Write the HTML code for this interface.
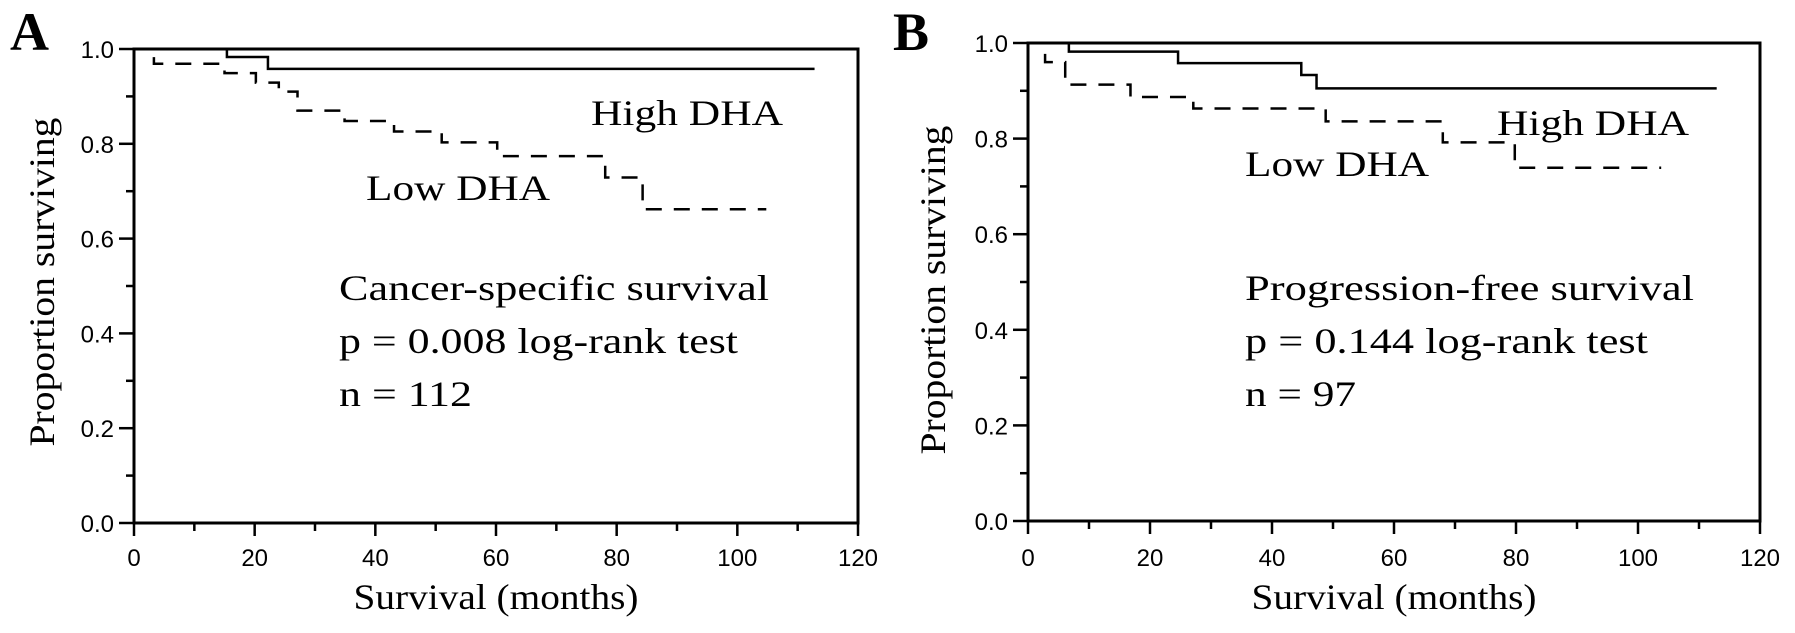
<!DOCTYPE html>
<html><head><meta charset="utf-8"><style>
html,body{margin:0;padding:0;background:#fff;}
svg{display:block;}
.tick{font-family:"Liberation Sans",sans-serif;font-size:24px;fill:#000;}
.ser{font-family:"Liberation Serif",serif;fill:#000;}
</style></head><body>
<svg id="fig" width="1795" height="633" viewBox="0 0 1795 633" xmlns="http://www.w3.org/2000/svg"></svg>
<script>
// Panel A data (months, proportion)
const aHighTimes = [0, 15.4, 22.2, 112.8];
const aHighVals  = [1.0, 0.983, 0.958, 0.958];
const aLowTimes  = [0, 3.3, 15.0, 20.2, 24.0, 27.1, 34.9, 43.1, 51.0, 60.2, 78.1, 84.3, 104.8];
const aLowVals   = [1.0, 0.969, 0.949, 0.929, 0.910, 0.870, 0.848, 0.826, 0.803, 0.774, 0.729, 0.662, 0.662];
// Panel B data
const bHighTimes = [0, 6.7, 24.6, 44.8, 47.3, 112.9];
const bHighVals  = [1.0, 0.982, 0.958, 0.933, 0.905, 0.905];
const bLowTimes  = [0, 2.8, 6.1, 16.8, 27.1, 48.8, 68.0, 79.8, 103.8];
const bLowVals   = [1.0, 0.96, 0.913, 0.887, 0.863, 0.836, 0.792, 0.739, 0.739];
const xTickLabels = ["0","20","40","60","80","100","120"];
const yTickLabels = ["0.0","0.2","0.4","0.6","0.8","1.0"];

const NS = "http://www.w3.org/2000/svg";
const svg = document.getElementById('fig');
function mk(tag, attrs, parent){
  const e = document.createElementNS(NS, tag);
  for (const k in attrs) e.setAttribute(k, attrs[k]);
  (parent||svg).appendChild(e);
  return e;
}
function txt(parent, x, y, s, cls, size, len, anchor){
  const t = mk('text', {x:x, y:y, class:cls}, parent);
  if (size) t.setAttribute('font-size', size);
  if (len){ t.setAttribute('textLength', len); t.setAttribute('lengthAdjust','spacingAndGlyphs'); }
  if (anchor) t.setAttribute('text-anchor', anchor);
  t.textContent = s;
  return t;
}
function stepPath(times, vals, sx, sy){
  let d = 'M' + sx(times[0]) + ' ' + sy(vals[0]);
  for (let i = 1; i < times.length; i++){
    d += ' H' + sx(times[i]) + ' V' + sy(vals[i]);
  }
  return d;
}
function panel(p){
  const g = mk('g', {});
  
  
  const sx = m => p.x0 + (p.x1 - p.x0) * m / 120;
  const sy = v => p.y0 + (p.y1 - p.y0) * v;
  // frame
  const fr = mk('rect', {x:sx(0), y:sy(1), width:sx(120)-sx(0), height:sy(0)-sy(1), fill:'none', stroke:'#000', 'stroke-width':3}, g);
  
  
  // x ticks
  for (let m = 0; m <= 120; m += 10){
    const major = m % 20 === 0;
    const l = mk('line', {x1:sx(m), x2:sx(m), y1:sy(0), y2:sy(0) + (major?13:8), stroke:'#000', 'stroke-width':2.5}, g);
    
    
  }
  xTickLabels.forEach((s, i) => {
    const t = txt(g, sx(i*20), 566, s, 'tick', null, null, 'middle');
    
    
  });
  for (let k = 0; k <= 10; k++){
    const major = k % 2 === 0;
    const l = mk('line', {x1:sx(0) - (major?15:8), x2:sx(0), y1:sy(k/10), y2:sy(k/10), stroke:'#000', 'stroke-width':2.5}, g);
    
    
  }
  yTickLabels.forEach((s, i) => {
    const t = txt(g, sx(0) - 20, sy(i*0.2) + 9, s, 'tick', null, null, 'end');
    
    
  });
  // curves
  const hi = mk('path', {d:stepPath(p.hiT, p.hiV, sx, sy), fill:'none', stroke:'#000', 'stroke-width':2.5}, g);
  
  
  const lo = mk('path', {d:stepPath(p.loT, p.loV, sx, sy), fill:'none', stroke:'#000', 'stroke-width':2.5, 'stroke-dasharray':'16 12'}, g);
  
  
  // labels
  let t;
  t = txt(g, p.letterX, 50, p.letter, 'ser', 54); t.setAttribute('font-weight','bold');
  
  
  t = txt(g, p.hiLab[0], p.hiLab[1], 'High DHA', 'ser', 36, 192);
  
  
  t = txt(g, p.loLab[0], p.loLab[1], 'Low DHA', 'ser', 36, 184);
  
  
  t = txt(g, p.ann[0], 300, p.title, 'ser', 36, p.titleLen);
  
  
  t = txt(g, p.ann[0], 353, p.pline, 'ser', 36, p.pLen);
  
  
  t = txt(g, p.ann[0], 406, p.nline, 'ser', 36, p.nLen);
  
  
  t = txt(g, (sx(0)+sx(120))/2, 609, 'Survival (months)', 'ser', 36, 285, 'middle');
  
  
  const yc = p.yTitleY;
  t = txt(g, p.yTitleX, yc, 'Proportion surviving', 'ser', 36, 329, 'middle');
  t.setAttribute('transform', 'rotate(-90 ' + p.yTitleX + ' ' + yc + ')');
  
  
}
panel({name:'panel-a-cancer-specific', x0:134, x1:858, y0:523, y1:49,
  hiT:aHighTimes, hiV:aHighVals, loT:aLowTimes, loV:aLowVals,
  letter:'A', letterX:10, hiLab:[591,125], loLab:[366,200], ann:[339],
  title:'Cancer-specific survival', titleLen:430, pline:'p = 0.008 log-rank test', pLen:399, nline:'n = 112', nLen:133,
  yTitleX:54, yTitleY:282});
panel({name:'panel-b-progression-free', x0:1028, x1:1760, y0:521, y1:43,
  hiT:bHighTimes, hiV:bHighVals, loT:bLowTimes, loV:bLowVals,
  letter:'B', letterX:893, hiLab:[1497,135], loLab:[1245,176], ann:[1245],
  title:'Progression-free survival', titleLen:449, pline:'p = 0.144 log-rank test', pLen:403, nline:'n = 97', nLen:111,
  yTitleX:945, yTitleY:290});
</script>
</body></html>
